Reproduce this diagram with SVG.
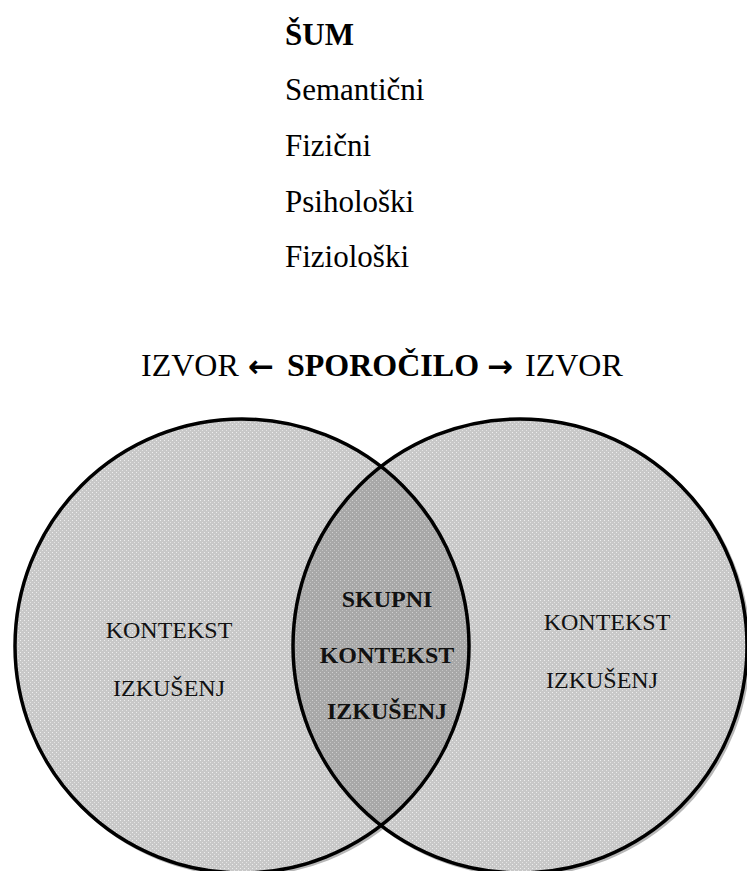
<svg xmlns="http://www.w3.org/2000/svg" width="747" height="871" viewBox="0 0 747 871">
  <style>
    .tnr { font-family: "Liberation Serif", "Times New Roman", serif; fill: #000; }
    .list { font-size: 31px; }
    .title { font-size: 32px; }
    .arrow { font-family: "DejaVu Sans", sans-serif; font-weight: bold; font-size: 31px; }
    .ctx { font-family: "Liberation Serif", serif; font-size: 24px; fill: #111; text-anchor: middle; }
    .b { font-weight: bold; }
    .shadow { fill: none; stroke: #b8b8b8; stroke-width: 3; }
    .ring { fill: none; stroke: #000; stroke-width: 3.5; }
  </style>
  <defs>
    <pattern id="dots" width="4" height="4" patternUnits="userSpaceOnUse">
      <rect width="4" height="4" fill="#c8c8c8"/>
      <rect x="0" y="0" width="1" height="1" fill="#efefef"/>
      <rect x="2" y="2" width="1" height="1" fill="#e4e4e4"/>
    </pattern>
    <pattern id="dotsDark" width="4" height="4" patternUnits="userSpaceOnUse">
      <rect width="4" height="4" fill="#a8a8a8"/>
      <rect x="0" y="0" width="1" height="1" fill="#d0d0d0"/>
      <rect x="2" y="2" width="1" height="1" fill="#c4c4c4"/>
    </pattern>
  </defs>

  <g id="noise-list" class="tnr list">
    <text x="285" y="45" class="b">ŠUM</text>
    <text x="285" y="100">Semantični</text>
    <text x="285" y="156">Fizični</text>
    <text x="285" y="212">Psihološki</text>
    <text x="285" y="267">Fiziološki</text>
  </g>

  <g id="message-title">
    <text class="tnr title" y="376"><tspan x="141">IZVOR</tspan><tspan x="287" class="b">SPOROČILO</tspan><tspan x="525">IZVOR</tspan></text>
    <text class="arrow" y="377"><tspan x="248">←</tspan><tspan x="487">→</tspan></text>
  </g>

  <g id="venn-fills">
    <circle cx="244" cy="648" r="227" class="shadow"/>
    <circle cx="522" cy="648" r="227" class="shadow"/>
    <circle cx="242" cy="646" r="227" fill="url(#dots)"/>
    <circle cx="520" cy="646" r="227" fill="url(#dots)"/>
    <path d="M 381 466.6 A 227 227 0 0 1 381 825.4 A 227 227 0 0 1 381 466.6 Z" fill="url(#dotsDark)"/>
  </g>

  <g id="left-circle">
    <circle cx="242" cy="646" r="227" class="ring"/>
    <text class="ctx" x="169" y="638">KONTEKST</text>
    <text class="ctx" x="169" y="696">IZKUŠENJ</text>
  </g>

  <g id="right-circle">
    <circle cx="520" cy="646" r="227" class="ring"/>
    <text class="ctx" x="607" y="630">KONTEKST</text>
    <text class="ctx" x="602" y="688">IZKUŠENJ</text>
  </g>

  <g id="shared-context">
    <text class="ctx b" x="387" y="607">SKUPNI</text>
    <text class="ctx b" x="387" y="663">KONTEKST</text>
    <text class="ctx b" x="387" y="719">IZKUŠENJ</text>
  </g>

  <g id="connectors"></g>
</svg>
